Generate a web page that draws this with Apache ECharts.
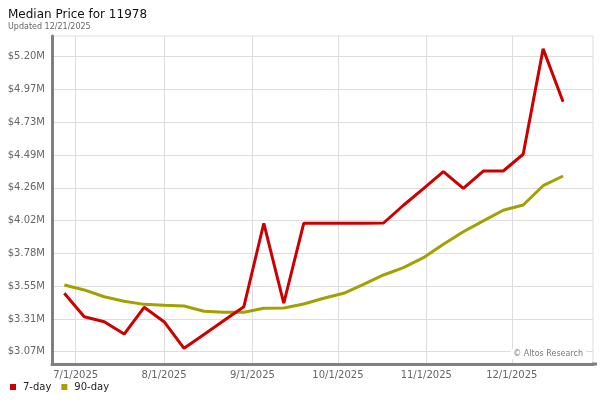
<!DOCTYPE html>
<html>
<head>
<meta charset="utf-8">
<script src="https://cdn.jsdelivr.net/npm/echarts@6/dist/echarts.min.js"></script>
<style>html,body{margin:0;padding:0;background:#fff;}#c{width:600px;height:400px;}</style>
</head>
<body>
<div id="c"></div>
<script>
// Weekly observation dates
var dates = ['2025-06-27','2025-07-04','2025-07-11','2025-07-18','2025-07-25','2025-08-01','2025-08-08','2025-08-15','2025-08-22','2025-08-29','2025-09-05','2025-09-12','2025-09-19','2025-09-26','2025-10-03','2025-10-10','2025-10-17','2025-10-24','2025-10-31','2025-11-07','2025-11-14','2025-11-21','2025-11-28','2025-12-05','2025-12-12','2025-12-19'];
// Median price, $ millions
var sevenDay = [3.496,3.327,3.291,3.202,3.395,3.291,3.099,3.199,3.299,3.399,4.001,3.424,4.001,4.001,4.001,4.001,4.003,4.131,4.251,4.373,4.253,4.378,4.378,4.499,5.259,4.878];
var ninetyDay = [3.556,3.520,3.471,3.438,3.416,3.409,3.404,3.366,3.359,3.359,3.388,3.390,3.419,3.460,3.496,3.561,3.628,3.681,3.753,3.849,3.940,4.018,4.095,4.133,4.272,4.342];
// Axis ticks
var xTickDates = ['2025-07-01','2025-08-01','2025-09-01','2025-10-01','2025-11-01','2025-12-01'];
var xTickLabels = ['7/1/2025','8/1/2025','9/1/2025','10/1/2025','11/1/2025','12/1/2025'];
var yTickValues = [3.0745,3.311,3.5475,3.784,4.0205,4.257,4.4935,4.73,4.9665,5.203];
var yTickLabels = ['$3.07M','$3.31M','$3.55M','$3.78M','$4.02M','$4.26M','$4.49M','$4.73M','$4.97M','$5.20M'];

var DAY = 86400000;
var xTicks = xTickDates.map(function(d){return Date.parse(d);});
var ts = dates.map(function(d){return Date.parse(d);});
var anchor = Date.parse('2025-07-01');
var FONT = 'DejaVu Sans';

function pair(vals){ return vals.map(function(v,i){return [ts[i], v];}); }
function nearest(arr, v){ var best=0; for (var k=0;k<arr.length;k++){ if (Math.abs(arr[k]-v) < Math.abs(arr[best]-v)) best=k; } return best; }

var chart = echarts.init(document.getElementById('c'), null, {renderer:'canvas'});
chart.setOption({
  animation: false,
  backgroundColor: '#fff',
  title: {
    text: 'Median Price for 11978',
    subtext: 'Updated 12/21/2025',
    left: 3, top: 4, itemGap: 2,
    textStyle: {fontFamily: FONT, fontSize: 12, fontWeight: 'normal', color: '#111'},
    subtextStyle: {fontFamily: FONT, fontSize: 8, color: '#666'}
  },
  legend: {
    left: 5, top: 377, icon: 'rect', itemWidth: 6, itemHeight: 6, itemGap: 10,
    textStyle: {fontFamily: FONT, fontSize: 10, color: '#222', padding: [0,0,0,2]},
    data: ['7-day','90-day']
  },
  grid: {left: 52, right: 7, top: 36, bottom: 36, show: true, borderColor: '#dddddd', borderWidth: 1, backgroundColor: '#fff'},
  xAxis: {
    type: 'value',
    min: anchor - 8.32*DAY, max: anchor + 181.5*DAY,
    axisLine: {show: true, lineStyle: {color: '#808080', width: 3}},
    axisTick: {show: false, customValues: xTicks},
    splitLine: {show: true, lineStyle: {color: '#dddddd', width: 1}},
    axisLabel: {
      customValues: xTicks, fontFamily: FONT, fontSize: 10, color: '#666', margin: 6,
      formatter: function(v){ return xTickLabels[nearest(xTicks, v)]; }
    }
  },
  yAxis: {
    type: 'value',
    min: 2.9858, max: 5.352,
    axisLine: {show: true, lineStyle: {color: '#808080', width: 3}},
    axisTick: {show: false, customValues: yTickValues},
    splitLine: {show: true, lineStyle: {color: '#dddddd', width: 1}},
    axisLabel: {
      customValues: yTickValues, fontFamily: FONT, fontSize: 10, color: '#666', margin: 7,
      formatter: function(v){ return yTickLabels[nearest(yTickValues, v)]; }
    }
  },
  graphic: [
    {type: 'line', z: 50, shape: {x1: 592, y1: 364, x2: 597, y2: 364}, style: {stroke: '#808080', lineWidth: 3}},
    {type: 'text', right: 14, top: 349, z: 100,
     style: {text: '\u00A9 Altos Research', fontFamily: FONT, fontSize: 8, fill: '#777', backgroundColor: '#fff', padding: [1,3,1,3]}}
  ],
  series: [
    {name: '7-day', type: 'line', data: pair(sevenDay), symbol: 'none', color: '#cc0000', lineStyle: {width: 3, color: '#cc0000'}, z: 3},
    {name: '90-day', type: 'line', data: pair(ninetyDay), symbol: 'none', color: '#a3a000', lineStyle: {width: 3, color: '#a3a000'}, z: 2}
  ]
});
</script>
</body>
</html>
